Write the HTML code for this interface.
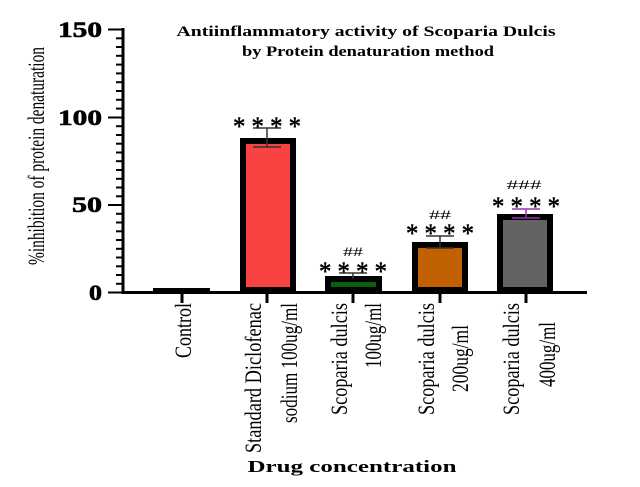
<!DOCTYPE html>
<html><head><meta charset="utf-8"><style>
html,body{margin:0;padding:0;background:#fff;width:640px;height:487px;overflow:hidden}
svg text{font-family:"Liberation Serif",serif;fill:#000}
</style></head><body>
<svg width="640" height="487" viewBox="0 0 640 487" xmlns="http://www.w3.org/2000/svg">
<text x="366" y="36" text-anchor="middle" font-weight="bold" font-size="15" textLength="379" lengthAdjust="spacingAndGlyphs">Antiinflammatory activity of Scoparia Dulcis</text>
<text x="368" y="56" text-anchor="middle" font-weight="bold" font-size="15" textLength="252" lengthAdjust="spacingAndGlyphs">by Protein denaturation method</text>
<line x1="123" y1="28" x2="123" y2="294" stroke="#000" stroke-width="3"/>
<g stroke="#000" stroke-width="2">
<line x1="108" y1="29.5" x2="123" y2="29.5"/><line x1="108" y1="117.5" x2="123" y2="117.5"/><line x1="108" y1="205" x2="123" y2="205"/><line x1="108" y1="292.5" x2="123" y2="292.5"/>
<line x1="116" y1="38.3" x2="123" y2="38.3"/><line x1="116" y1="47" x2="123" y2="47"/><line x1="116" y1="55.8" x2="123" y2="55.8"/><line x1="116" y1="64.6" x2="123" y2="64.6"/><line x1="116" y1="73.4" x2="123" y2="73.4"/><line x1="116" y1="82.2" x2="123" y2="82.2"/><line x1="116" y1="91" x2="123" y2="91"/><line x1="116" y1="99.8" x2="123" y2="99.8"/><line x1="116" y1="108.6" x2="123" y2="108.6"/>
<line x1="116" y1="126.2" x2="123" y2="126.2"/><line x1="116" y1="135" x2="123" y2="135"/><line x1="116" y1="143.7" x2="123" y2="143.7"/><line x1="116" y1="152.5" x2="123" y2="152.5"/><line x1="116" y1="161.2" x2="123" y2="161.2"/><line x1="116" y1="170" x2="123" y2="170"/><line x1="116" y1="178.8" x2="123" y2="178.8"/><line x1="116" y1="187.5" x2="123" y2="187.5"/><line x1="116" y1="196.3" x2="123" y2="196.3"/>
<line x1="116" y1="213.8" x2="123" y2="213.8"/><line x1="116" y1="222.5" x2="123" y2="222.5"/><line x1="116" y1="231.3" x2="123" y2="231.3"/><line x1="116" y1="240" x2="123" y2="240"/><line x1="116" y1="248.8" x2="123" y2="248.8"/><line x1="116" y1="257.5" x2="123" y2="257.5"/><line x1="116" y1="266.3" x2="123" y2="266.3"/><line x1="116" y1="275" x2="123" y2="275"/><line x1="116" y1="283.8" x2="123" y2="283.8"/>
</g>
<g font-weight="bold" font-size="22" text-anchor="end" stroke="#000" stroke-width="0.6">
<text x="102" y="37" textLength="44" lengthAdjust="spacingAndGlyphs">150</text>
<text x="102" y="125" textLength="44" lengthAdjust="spacingAndGlyphs">100</text>
<text x="102" y="212" textLength="30" lengthAdjust="spacingAndGlyphs">50</text>
<text x="102" y="300" textLength="13" lengthAdjust="spacingAndGlyphs">0</text>
</g>
<text transform="translate(44,156) rotate(-90)" text-anchor="middle" font-size="23" textLength="218" lengthAdjust="spacingAndGlyphs">%inhibition of protein denaturation</text>
<line x1="122" y1="292.5" x2="587" y2="292.5" stroke="#000" stroke-width="3"/>
<g stroke="#000" stroke-width="3">
<line x1="182" y1="293" x2="182" y2="303"/><line x1="267" y1="293" x2="267" y2="303"/><line x1="353" y1="293" x2="353" y2="303"/><line x1="440" y1="293" x2="440" y2="303"/><line x1="526" y1="293" x2="526" y2="303"/>
</g>
<rect x="153" y="288" width="57" height="5" fill="#000"/>
<rect x="243" y="141" width="50" height="149" fill="#f94343" stroke="#000" stroke-width="6"/>
<rect x="328" y="279" width="51" height="11" fill="#0b5e0b" stroke="#000" stroke-width="6"/>
<rect x="415" y="245" width="50" height="45" fill="#c06000" stroke="#000" stroke-width="6"/>
<rect x="500" y="217" width="50" height="73" fill="#636363" stroke="#000" stroke-width="6"/>
<g stroke="#333" stroke-width="1.5" fill="none">
<path d="M253 128H281M267 128V147M253 147H281"/>
<path d="M339 273H367M353 273V279"/>
<path d="M426 236H454M440 236V248M426 248H454"/>
</g>
<path d="M512 209H540M526 209V218M512 218H540" stroke="#9b30b0" stroke-width="1.5" fill="none"/>
<g font-size="26" text-anchor="middle" stroke="#000" stroke-width="0.5">
<text x="267" y="135" textLength="68" lengthAdjust="spacingAndGlyphs">* * * *</text>
<text x="353" y="280" textLength="68" lengthAdjust="spacingAndGlyphs">* * * *</text>
<text x="440" y="242" textLength="68" lengthAdjust="spacingAndGlyphs">* * * *</text>
<text x="526" y="215" textLength="68" lengthAdjust="spacingAndGlyphs">* * * *</text>
</g>
<g font-size="13" text-anchor="middle">
<text x="353" y="256" textLength="20" lengthAdjust="spacingAndGlyphs">##</text>
<text x="440" y="219" textLength="22" lengthAdjust="spacingAndGlyphs">##</text>
<text x="524" y="189" textLength="35" lengthAdjust="spacingAndGlyphs">###</text>
</g>
<g font-size="23" text-anchor="end">
<text transform="translate(191,303) rotate(-90)" textLength="55" lengthAdjust="spacingAndGlyphs">Control</text>
<text transform="translate(261,303) rotate(-90)" textLength="150" lengthAdjust="spacingAndGlyphs">Standard Diclofenac</text>
<text transform="translate(297,303) rotate(-90)" textLength="120" lengthAdjust="spacingAndGlyphs">sodium 100ug/ml</text>
<text transform="translate(347,303) rotate(-90)" textLength="112" lengthAdjust="spacingAndGlyphs">Scoparia dulcis</text>
<text transform="translate(381,303) rotate(-90)" textLength="65" lengthAdjust="spacingAndGlyphs">100ug/ml</text>
<text transform="translate(434,303) rotate(-90)" textLength="112" lengthAdjust="spacingAndGlyphs">Scoparia dulcis</text>
<text transform="translate(468,325) rotate(-90)" textLength="67" lengthAdjust="spacingAndGlyphs">200ug/ml</text>
<text transform="translate(519,303) rotate(-90)" textLength="112" lengthAdjust="spacingAndGlyphs">Scoparia dulcis</text>
<text transform="translate(555,322) rotate(-90)" textLength="65" lengthAdjust="spacingAndGlyphs">400ug/ml</text>
</g>
<text x="352" y="472" text-anchor="middle" font-weight="bold" font-size="17" textLength="209" lengthAdjust="spacingAndGlyphs">Drug concentration</text>
</svg>
</body></html>
